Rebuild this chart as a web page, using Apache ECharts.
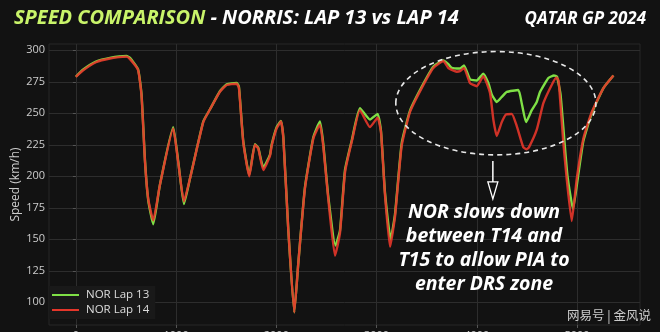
<!DOCTYPE html>
<html>
<head>
<meta charset="utf-8">
<script src="https://cdn.jsdelivr.net/npm/echarts@6/dist/echarts.min.js"></script>
<style>
  html, body { margin: 0; padding: 0; background: #121212; }
  #chart { width: 660px; height: 332px; }
</style>
</head>
<body>
<div id="chart"></div>
<script>
// Lap distance (m) and speed (km/h) for Norris, lap 13
const dist13 = [0, 70, 200, 340, 505, 540, 620, 655, 690, 722, 772, 838, 971, 1021, 1078, 1138, 1271, 1337, 1437, 1504, 1604, 1627, 1670, 1730, 1786, 1820, 1870, 1936, 1953, 2003, 2046, 2070, 2119, 2179, 2219, 2285, 2369, 2435, 2468, 2518, 2590, 2635, 2685, 2751, 2834, 2934, 3010, 3044, 3084, 3140, 3184, 3250, 3333, 3450, 3566, 3666, 3716, 3750, 3832, 3872, 3932, 3999, 4065, 4115, 4149, 4199, 4249, 4299, 4414, 4448, 4491, 4548, 4598, 4631, 4714, 4770, 4800, 4835, 4870, 4905, 4960, 5010, 5063, 5147, 5263, 5363];
const speed13 = [279, 284.5, 291, 294, 295.5, 294, 285, 265, 212, 181, 162, 193, 239, 212, 178, 198, 243.5, 253, 267.5, 273, 274, 271, 228, 201, 225.5, 222.5, 207, 217, 225, 239, 244, 231, 158, 92, 131, 191, 231, 243.5, 226, 184, 145, 157, 205, 228, 254, 245, 249.5, 236, 187, 150, 170, 226, 252, 271, 287, 292, 289, 286, 285.5, 288, 277, 276, 281.5, 274, 265, 259, 263, 267, 268.5, 258, 243, 252.5, 259, 267, 278, 280, 279, 265, 232, 200, 174, 200, 228, 250, 270, 280];

// Lap distance (m) and speed (km/h) for Norris, lap 14
const dist14 = [0, 70, 200, 340, 505, 540, 620, 655, 690, 722, 772, 838, 971, 1021, 1078, 1138, 1271, 1337, 1437, 1504, 1604, 1627, 1670, 1730, 1786, 1820, 1870, 1936, 1953, 2003, 2046, 2070, 2119, 2179, 2219, 2285, 2369, 2435, 2468, 2518, 2585, 2635, 2685, 2751, 2834, 2934, 3010, 3044, 3084, 3134, 3184, 3250, 3333, 3450, 3566, 3666, 3716, 3799, 3832, 3872, 3932, 3999, 4065, 4132, 4165, 4199, 4249, 4290, 4349, 4398, 4464, 4498, 4520, 4598, 4664, 4747, 4795, 4815, 4830, 4863, 4897, 4947, 4997, 5063, 5147, 5263, 5363];
const speed14 = [279, 284, 290.5, 293.5, 295, 293, 284.5, 264, 211, 182, 165, 193, 238, 211, 180, 198, 243, 253, 267, 272.5, 273.5, 270, 227, 200, 225, 222, 205, 216, 224, 238, 243.5, 230, 158, 92, 131, 190, 230, 241, 224, 182, 137, 155, 203, 227, 252.5, 239, 246.5, 235, 185, 144, 168, 224, 251, 270, 286, 291.5, 286, 283, 283.5, 286, 274, 271.5, 279.5, 266, 245, 232, 243, 249, 249.5, 240, 223, 221.5, 223, 237, 258, 272.5, 278.5, 276, 262, 227, 198, 164.5, 198, 230, 251, 270, 280];

// Axis ticks
const xTicks = [0, 1000, 2000, 3000, 4000, 5000];
const yTicks = [100, 125, 150, 175, 200, 225, 250, 275, 300];

const seriesNames = ['NOR Lap 13', 'NOR Lap 14'];
const noteLines = ['NOR slows down', 'between T14 and', 'T15 to allow PIA to', 'enter DRS zone'];

const zip = (xs, ys) => xs.map((x, i) => [x, ys[i]]);

const chart = echarts.init(document.getElementById('chart'), null, { renderer: 'canvas' });

const FONT = '"Open Sans", "Noto Sans", sans-serif';

chart.setOption({
  backgroundColor: '#121212',
  animation: false,
  title: [{
    left: 9, top: 3,
    text: '{a|SPEED COMPARISON}{b| - NORRIS: LAP 13 vs LAP 14}',
    textStyle: {
      rich: {
        a: { color: '#c9f46a', fontSize: 20, fontWeight: 'bold', fontStyle: 'italic', fontFamily: FONT },
        b: { color: '#ffffff', fontSize: 20, fontWeight: 'bold', fontStyle: 'italic', fontFamily: FONT }
      }
    }
  }, {
    right: 9, top: 6,
    text: 'QATAR GP 2024',
    textStyle: { color: '#ffffff', fontSize: 17, fontWeight: 'bold', fontStyle: 'italic', fontFamily: FONT }
  }],
  grid: {
    left: 49, right: 20, top: 44, bottom: 7,
    outerBoundsMode: 'none',
    containLabel: false,
    show: true, borderColor: '#262626', borderWidth: 1, backgroundColor: '#121212'
  },
  legend: {
    orient: 'vertical', left: 49, top: 286,
    itemWidth: 27, itemHeight: 2, itemGap: 3,
    icon: 'rect',
    backgroundColor: '#191919',
    padding: [3, 6, 3, 3],
    textStyle: { color: '#dddddd', fontSize: 11.5, fontFamily: FONT, padding: [0, 0, 0, 2] },
    data: seriesNames
  },
  xAxis: {
    type: 'value', min: -268, max: 5628,
    axisLine: { show: false },
    axisTick: { show: true, customValues: xTicks, length: 3, lineStyle: { color: '#555' } },
    axisLabel: { customValues: xTicks, formatter: v => String(v), color: '#cccccc', fontSize: 11, margin: 5, fontFamily: FONT },
    splitLine: { show: true, lineStyle: { color: '#2d2d2d', width: 1 } }
  },
  yAxis: {
    type: 'value', min: 82, max: 305,
    name: 'Speed (km/h)', nameLocation: 'middle', nameGap: 27,
    nameMoveOverlap: false,
    nameTextStyle: { color: '#cccccc', fontSize: 12, fontFamily: FONT },
    axisLine: { show: false },
    axisTick: { show: true, customValues: yTicks, length: 3, lineStyle: { color: '#555' } },
    axisLabel: { customValues: yTicks, color: '#cccccc', fontSize: 11, margin: 4, fontFamily: FONT },
    splitLine: { show: true, lineStyle: { color: '#2d2d2d', width: 1 } }
  },
  series: [{
    name: seriesNames[0], type: 'line', data: zip(dist13, speed13),
    showSymbol: false, smooth: 0.15,
    lineStyle: { color: '#7fe046', width: 2.4 }, itemStyle: { color: '#7fe046' }
  }, {
    name: seriesNames[1], type: 'line', data: zip(dist14, speed14),
    showSymbol: false, smooth: 0.15,
    lineStyle: { color: '#e5362a', width: 2.4, opacity: 0.9 }, itemStyle: { color: '#e5362a' }
  }]
});

// Annotation around the T14-T15 section, anchored on data coordinates
const c = chart.convertToPixel({ gridIndex: 0 }, [4190, 258]);
const edge = chart.convertToPixel({ gridIndex: 0 }, [5188, 217]);
const rx = edge[0] - c[0];
const ry = edge[1] - c[1];
const ax = c[0] - 3;
const aTop = c[1] + ry + 6;

chart.setOption({
  graphic: [{
    type: 'ellipse',
    shape: { cx: c[0], cy: c[1], rx: rx, ry: ry },
    style: { fill: 'none', stroke: '#e8e8e8', lineWidth: 1.6, lineDash: [5, 4] },
    z: 100
  }, {
    type: 'line',
    shape: { x1: ax, y1: aTop, x2: ax, y2: aTop + 21 },
    style: { stroke: '#ffffff', lineWidth: 1.5 },
    z: 100
  }, {
    type: 'polygon',
    shape: { points: [[ax - 5, aTop + 21], [ax + 5, aTop + 21], [ax, aTop + 38]] },
    style: { fill: 'none', stroke: '#ffffff', lineWidth: 1.3 },
    z: 100
  }, {
    type: 'text',
    x: 484, y: 200,
    style: {
      text: noteLines.join('\n'),
      fill: '#ffffff', font: 'italic bold 19.5px ' + FONT,
      align: 'center', verticalAlign: 'top', lineHeight: 24
    },
    z: 100
  }, {
    type: 'text',
    right: 9, bottom: 10,
    style: {
      text: '网易号 | 金风说',
      fill: 'rgba(235,235,235,0.85)', font: '12.5px "Noto Sans CJK SC", sans-serif'
    },
    z: 100
  }]
});
</script>
</body>
</html>
